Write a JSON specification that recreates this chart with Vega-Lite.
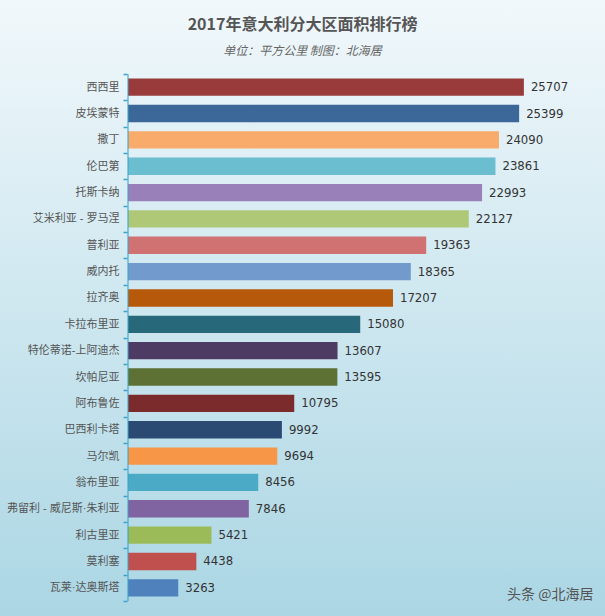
{
  "$schema": "https://vega.github.io/schema/vega-lite/v6.json",
  "width": 605,
  "height": 616,
  "autosize": {"type": "none"},
  "padding": 0,
  "background": "#d4ebf2",
  "config": {
    "view": {
      "stroke": null,
      "fill": {
        "gradient": "linear",
        "x1": 0, "y1": 0, "x2": 0, "y2": 1,
        "stops": [
          {"offset": 0, "color": "#f1f8fb"},
          {"offset": 1, "color": "#abd6e4"}
        ]
      }
    }
  },
  "title": {
    "text": "2017年意大利分大区面积排行榜",
    "subtitle": "单位：平方公里 制图：北海居",
    "anchor": "middle",
    "frame": "group",
    "offset": -63,
    "font": "Noto Sans CJK SC",
    "fontSize": 16,
    "fontWeight": "bold",
    "color": "#555555",
    "subtitleFont": "Noto Sans CJK SC",
    "subtitleFontSize": 12,
    "subtitleFontStyle": "italic",
    "subtitleColor": "#666666",
    "subtitlePadding": 13
  },
  "data": {
    "values": [
      {"region": "西西里", "area": 25707},
      {"region": "皮埃蒙特", "area": 25399},
      {"region": "撒丁", "area": 24090},
      {"region": "伦巴第", "area": 23861},
      {"region": "托斯卡纳", "area": 22993},
      {"region": "艾米利亚 - 罗马涅", "area": 22127},
      {"region": "普利亚", "area": 19363},
      {"region": "威内托", "area": 18365},
      {"region": "拉齐奥", "area": 17207},
      {"region": "卡拉布里亚", "area": 15080},
      {"region": "特伦蒂诺-上阿迪杰", "area": 13607},
      {"region": "坎帕尼亚", "area": 13595},
      {"region": "阿布鲁佐", "area": 10795},
      {"region": "巴西利卡塔", "area": 9992},
      {"region": "马尔凯", "area": 9694},
      {"region": "翁布里亚", "area": 8456},
      {"region": "弗留利 - 威尼斯·朱利亚", "area": 7846},
      {"region": "利古里亚", "area": 5421},
      {"region": "莫利塞", "area": 4438},
      {"region": "瓦莱·达奥斯塔", "area": 3263}
    ]
  },
  "encoding": {
    "y": {
      "field": "region",
      "type": "nominal",
      "sort": null,
      "scale": {"range": [74, 601], "paddingInner": 0, "paddingOuter": 0},
      "axis": {
        "title": null,
        "offset": -127,
        "domain": false,
        "tickBand": "extent",
        "tickSize": 4,
        "tickColor": "#3aa3c9",
        "tickWidth": 1.5,
        "labelPadding": 4,
        "labelFont": "Liberation Sans, Noto Sans CJK SC, sans-serif",
        "labelFontSize": 11,
        "labelColor": "#555555"
      }
    }
  },
  "layer": [
    {
      "mark": {"type": "bar", "height": {"band": 0.66}},
      "encoding": {
        "x": {
          "field": "area",
          "type": "quantitative",
          "stack": null,
          "scale": {"domain": [-8312, 30974], "nice": false, "zero": false},
          "axis": {
            "title": "头条 @北海居",
            "labels": false,
            "ticks": false,
            "domain": false,
            "grid": false,
            "offset": -29,
            "titlePadding": 0,
            "titleFont": "Noto Sans CJK SC",
            "titleFontSize": 14,
            "titleFontWeight": "normal",
            "titleColor": "#555555",
            "titleX": 593,
            "titleAlign": "right"
          }
        },
        "color": {
          "field": "region",
          "type": "nominal",
          "legend": null,
          "scale": {
            "domain": ["西西里", "皮埃蒙特", "撒丁", "伦巴第", "托斯卡纳", "艾米利亚 - 罗马涅", "普利亚", "威内托", "拉齐奥", "卡拉布里亚", "特伦蒂诺-上阿迪杰", "坎帕尼亚", "阿布鲁佐", "巴西利卡塔", "马尔凯", "翁布里亚", "弗留利 - 威尼斯·朱利亚", "利古里亚", "莫利塞", "瓦莱·达奥斯塔"],
            "range": ["#9a3b3b", "#3b6899", "#f8ab6a", "#6bbdd0", "#9a80b8", "#aec878", "#d07272", "#739acc", "#b6590b", "#27687a", "#4d3b63", "#5c7133", "#7b2b2b", "#2b4a73", "#f79646", "#4babc6", "#8064a2", "#9bbb59", "#c0504d", "#4f81bd"]
          }
        }
      }
    },
    {
      "mark": {
        "type": "text",
        "align": "left",
        "baseline": "middle",
        "dx": 7,
        "font": "Liberation Sans Narrow, DejaVu Sans Condensed, sans-serif",
        "fontSize": 13,
        "color": "#333333"
      },
      "encoding": {
        "x": {"field": "area", "type": "quantitative"},
        "text": {"field": "area", "type": "quantitative", "format": "d"}
      }
    },
    {
      "mark": {"type": "tick", "size": 26.4, "thickness": 1.5, "color": "#3aa3c9"},
      "encoding": {
        "x": {"datum": 0, "type": "quantitative"}
      }
    }
  ]
}
